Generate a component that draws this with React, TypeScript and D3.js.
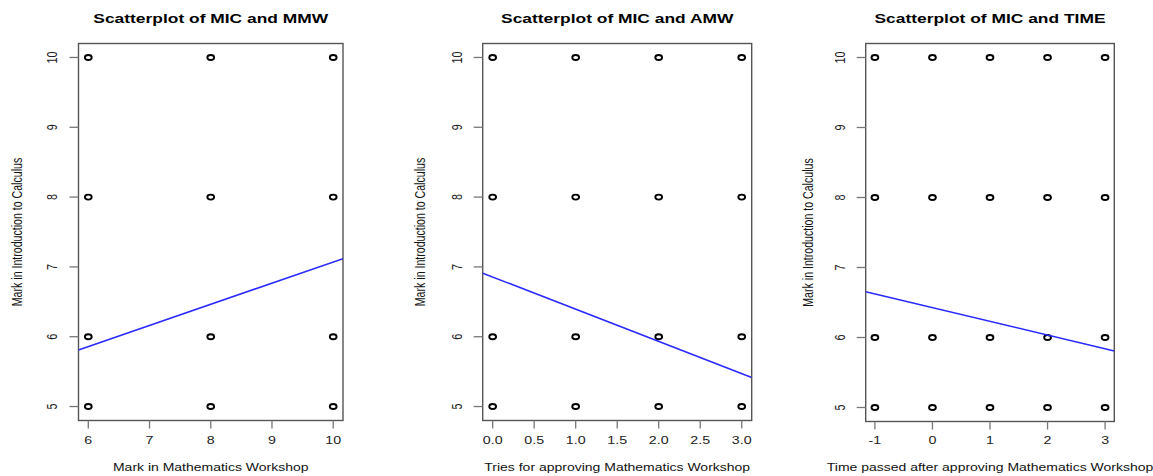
import React from "react";
import * as d3 from "d3";

// ---- data ----
const micValues = [5, 6, 8, 10];
const mmwValues = [6, 8, 10];
const amwValues = [0, 1, 2, 3];
const timeValues = [-1, 0, 1, 2, 3];

const yTicks = [5, 6, 7, 8, 9, 10];
const mmwTicks = [6, 7, 8, 9, 10];
const amwTicks = [0, 0.5, 1, 1.5, 2, 2.5, 3];
const timeTicks = [-1, 0, 1, 2, 3];

// regression fits (intercept, slope)
const fitMMW = [4.04, 0.303];
const fitAMW = [6.855, -0.461];
const fitTIME = [6.427, -0.196];

const titles = ["Scatterplot of MIC and MMW", "Scatterplot of MIC and AMW", "Scatterplot of MIC and TIME"];
const xLabels = [
  "Mark in Mathematics Workshop",
  "Tries for approving Mathematics Workshop",
  "Time passed after approving Mathematics Workshop",
];
const yLabel = "Mark in Introduction to Calculus";

const panels = [
  { xs: mmwValues, ticks: mmwTicks, fit: fitMMW, fmt: (d: number) => String(d), box: [78.5, 343, 43.5, 420.5], yLabX: 51.7, yTitleX: 17 },
  { xs: amwValues, ticks: amwTicks, fit: fitAMW, fmt: d3.format(".1f"), box: [482.7, 751.7, 43.5, 420.5], yLabX: 456.5, yTitleX: 420 },
  { xs: timeValues, ticks: timeTicks, fit: fitTIME, fmt: (d: number) => String(d), box: [865.7, 1114.3, 43.5, 421.5], yLabX: 840, yTitleX: 808 },
];

const SX = 1.32;
const FONT = "'Liberation Sans', Arial, Helvetica, sans-serif";

function Panel({ p, i }: { p: any; i: number }) {
  const [x0, x1, y0, y1] = p.box;
  const xmin = d3.min(p.xs as number[])!;
  const xmax = d3.max(p.xs as number[])!;
  const xpad = (xmax - xmin) * 0.04;
  const ymin = d3.min(micValues)!;
  const ymax = d3.max(micValues)!;
  const ypad = (ymax - ymin) * 0.04;
  const x = d3.scaleLinear().domain([xmin - xpad, xmax + xpad]).range([x0, x1]);
  const y = d3.scaleLinear().domain([ymin - ypad, ymax + ypad]).range([y1, y0]);
  const cx = (x0 + x1) / 2;
  const cy = (y0 + y1) / 2;
  const [a, b] = p.fit;
  const dom = x.domain();
  const pts: [number, number][] = [];
  micValues.forEach((m) => (p.xs as number[]).forEach((v) => pts.push([v, m])));
  return (
    <g>
      <defs>
        <clipPath id={`clip${i}`}>
          <rect x={x0} y={y0} width={x1 - x0} height={y1 - y0} />
        </clipPath>
      </defs>
      <text
        transform={`translate(${cx},18.5) scale(${SX},1)`}
        textAnchor="middle"
        dy="0.36em"
        fontFamily={FONT}
        fontWeight="bold"
        fontSize={13.2}
        fill="#000"
      >
        {titles[i]}
      </text>
      <rect x={x0} y={y0} width={x1 - x0} height={y1 - y0} fill="none" stroke="#555" strokeWidth={1.4} />
      {yTicks.map((t) => (
        <g key={"y" + t}>
          <line x1={x0 - 9} x2={x0} y1={y(t)} y2={y(t)} stroke="#777" strokeWidth={1.3} />
          <text
            transform={`translate(${p.yLabX},${y(t)}) scale(${SX},1) rotate(-90)`}
            textAnchor="middle"
            dy="0.36em"
            fontFamily={FONT}
            fontSize={10.8}
            fill="#222"
          >
            {t}
          </text>
        </g>
      ))}
      {(p.ticks as number[]).map((t) => (
        <g key={"x" + t}>
          <line x1={x(t)} x2={x(t)} y1={y1} y2={y1 + 8} stroke="#777" strokeWidth={1.3} />
          <text
            transform={`translate(${x(t)},440.5) scale(${SX},1)`}
            textAnchor="middle"
            dy="0.36em"
            fontFamily={FONT}
            fontSize={10.8}
            fill="#222"
          >
            {p.fmt(t)}
          </text>
        </g>
      ))}
      <text
        transform={`translate(${cx},467) scale(${SX},1)`}
        textAnchor="middle"
        dy="0.36em"
        fontFamily={FONT}
        fontSize={10.6}
        fill="#111"
      >
        {xLabels[i]}
      </text>
      <text
        transform={`translate(${p.yTitleX},${cy}) scale(${SX},1) rotate(-90)`}
        textAnchor="middle"
        dy="0.36em"
        fontFamily={FONT}
        fontSize={10.6}
        fill="#111"
      >
        {yLabel}
      </text>
      {pts.map(([vx, vy], k) => (
        <ellipse key={k} cx={x(vx)} cy={y(vy)} rx={3.4} ry={2.5} fill="none" stroke="#000" strokeWidth={1.9} />
      ))}
      <line
        clipPath={`url(#clip${i})`}
        x1={x(dom[0])}
        y1={y(a + b * dom[0])}
        x2={x(dom[1])}
        y2={y(a + b * dom[1])}
        stroke="#2a2aff"
        strokeWidth={1.6}
      />
    </g>
  );
}

export default function App() {
  return (
    <svg
      width={1153}
      height={476}
      style={{ position: "absolute", left: 0, top: 0, background: "#fff" }}
    >
      <rect width={1153} height={476} fill="#fff" />
      {panels.map((p, i) => (
        <Panel key={i} p={p} i={i} />
      ))}
    </svg>
  );
}
